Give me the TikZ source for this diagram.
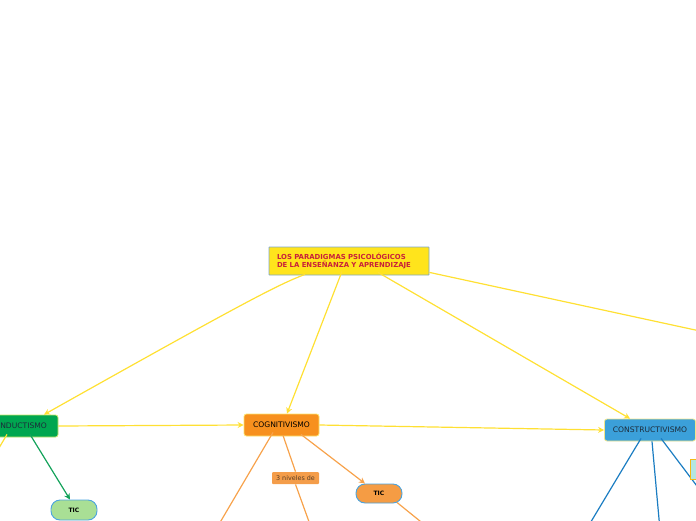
\documentclass[tikz,border=0pt]{standalone}
\usepackage{fontspec}
\setmainfont{DejaVu Sans}
\usetikzlibrary{arrows.meta,calc}
\definecolor{ylw}{HTML}{FFE41C}
\definecolor{ylwline}{HTML}{FFE033}
\definecolor{mainbd}{HTML}{7FA8C9}
\definecolor{maintx}{HTML}{C8213A}
\definecolor{condfill}{HTML}{00A650}
\definecolor{condbd}{HTML}{C8E66A}
\definecolor{cogfill}{HTML}{F7901E}
\definecolor{cogbd}{HTML}{FCE36C}
\definecolor{consfill}{HTML}{3BA0DA}
\definecolor{consbd}{HTML}{F2E68A}
\definecolor{darktx}{HTML}{1D2C3A}
\definecolor{ticgfill}{HTML}{A9DF95}
\definecolor{ticbd}{HTML}{4AA3DF}
\definecolor{ticofill}{HTML}{F59C44}
\definecolor{nivfill}{HTML}{F49D4A}
\definecolor{nivtx}{HTML}{5A3E26}
\definecolor{tealfill}{HTML}{B4E6E1}
\definecolor{tealbd}{HTML}{F5B914}
\definecolor{grline}{HTML}{13A25A}
\definecolor{orline}{HTML}{F7A24B}
\definecolor{blline}{HTML}{1B7DC2}
\tikzset{
  box/.style={draw, line width=0.8pt, rounded corners=2.5pt, inner sep=0pt, align=center, text=darktx, font=\fontsize{7.6}{8}\selectfont},
  pill/.style={draw, line width=0.9pt, rounded corners=9pt, inner sep=0pt, minimum width=46pt, font=\bfseries\fontsize{6}{7}\selectfont, text=black},
  tip/.style={-{Stealth[length=6pt,width=6pt]}},
  yline/.style={draw=ylwline, line width=1.2pt},
  gline/.style={draw=grline, line width=1.2pt},
  oline/.style={draw=orline, line width=1.2pt},
  bline/.style={draw=blline, line width=1.2pt},
}
\begin{document}
\begin{tikzpicture}[x=1pt,y=-1pt]
\path[use as bounding box] (0,0) rectangle (696,520);

% off-canvas ends
\coordinate (offR) at (760,344);
\coordinate (offCL) at (-14,470);
\coordinate (offG1) at (215,531);
\coordinate (offG2) at (312,530);
\coordinate (offT2) at (431,530);
\coordinate (offB1) at (586,530);
\coordinate (offB2) at (660,530);
\coordinate (offB3) at (715,510);

% nodes
\node[box, fill=ylw, draw=mainbd, rounded corners=0.5pt, minimum width=160pt, minimum height=28pt, text width=144pt, inner xsep=8pt, text=maintx, align=left, font=\bfseries\fontsize{6.9}{8.2}\selectfont] (main) at (349,261) {LOS PARADIGMAS PSICOLÓGICOS\\DE LA ENSEÑANZA Y APRENDIZAJE};
\node[box, fill=condfill, draw=condbd, minimum width=80pt, minimum height=22pt] (cond) at (18,426) {CONDUCTISMO};
\node[box, fill=cogfill, draw=cogbd, minimum width=75pt, minimum height=22pt, text=black] (cog) at (281.5,425) {COGNITIVISMO};
\node[box, fill=consfill, draw=consbd, minimum width=91pt, minimum height=22pt] (cons) at (650,430) {CONSTRUCTIVISMO};
\node[pill, fill=ticgfill, draw=ticbd, minimum height=20pt] (tic1) at (74,510) {TIC};
\node[pill, fill=ticofill, draw=ticbd, minimum height=19pt] (tic2) at (379,493.5) {TIC};
\node[box, fill=nivfill, draw=none, rounded corners=1pt, minimum width=47pt, minimum height=12pt, text=nivtx, font=\fontsize{6.4}{7}\selectfont] (niv) at (295.5,478) {3 niveles de};

% connectors
\draw[yline, tip] ($(main.south)+(-44,-1)$) .. controls (280,284) and (255,296) .. ($(cond.north)+(26,0)$);
\draw[yline, tip] ($(main.south)+(-7,-4)$) -- ($(cog.north)+(5.5,0)$);
\draw[yline, tip] ($(main.south)+(29,-3)$) -- ($(cons.north)+(-20,0)$);
\draw[yline] ($(main.south east)+(0,-3)$) -- (offR);
\draw[yline, tip] (cond.east) -- (cog.west);
\draw[yline, tip] (cog.east) -- (cons.west);
\draw[yline] ($(cond.south)+(-11,-3)$) -- (offCL);
\draw[gline, tip] ($(cond.south)+(12,-3)$) -- ($(tic1.north)+(-4,0)$);
\draw[oline] ($(cog.south)+(-8.5,-4)$) -- (offG1);
\draw[oline] ($(cog.south)+(1.5,-1)$) -- (niv.north);
\draw[oline] (niv.south) -- (offG2);
\draw[oline, tip] ($(cog.south)+(19.5,-2)$) -- ($(tic2.north)+(-14,0)$);
\draw[oline] ($(tic2.south)+(18,-1)$) -- (offT2);
\draw[bline] ($(cons.south)+(-9,-3)$) -- (offB1);
\draw[bline] ($(cons.south)+(2,0)$) -- (offB2);
\draw[bline] ($(cons.south)+(11,-3)$) -- (offB3);

\node[draw=tealbd, fill=tealfill, line width=0.9pt, inner sep=0pt, minimum width=30pt, minimum height=20pt] (teal) at (705,469) {};
\end{tikzpicture}
\end{document}
